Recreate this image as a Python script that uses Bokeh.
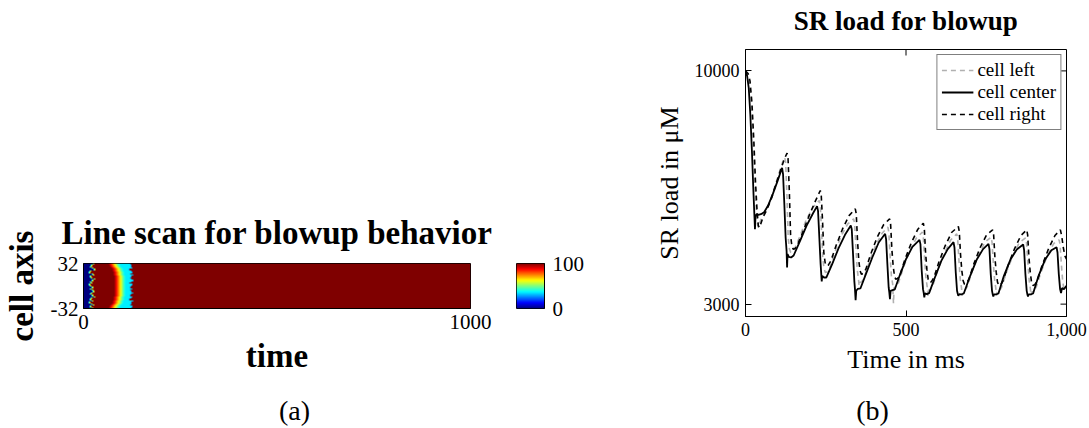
import numpy as np
from bokeh.plotting import figure
from bokeh.models import FixedTicker, Range1d, Legend, LegendItem, LinearColorMapper
from bokeh.core.properties import value
from bokeh.layouts import row, column
from bokeh.embed import file_html
from bokeh.resources import INLINE

FONT = "Liberation Serif"

# ---------------- (a) line scan data ----------------
cell_rows = list(range(32, -33, -2))          # cell axis, top -> bottom (33 rows)
time_edges = [0, 1000]
blue_end = [22, 18, 14, 20, 24, 16, 13, 19, 22, 15, 17, 24, 20, 14, 18, 12, 16,
            21, 15, 19, 23, 17, 14, 20, 25, 18, 15, 21, 13, 17, 22, 16, 20]
front_start = [62, 65, 68, 70, 72, 73, 74, 75, 76, 77, 77, 78, 78, 78, 78, 78, 78,
               78, 78, 78, 78, 78, 77, 77, 76, 75, 74, 73, 72, 70, 68, 65, 62]
back_edge = [122, 126, 124, 128, 121, 125, 127, 123, 130, 124, 122, 126, 129, 124,
             121, 127, 125, 123, 128, 122, 126, 131, 124, 122, 127, 125, 121, 129,
             124, 126, 122, 128, 125]
edge_vals = [38, 62]
grad_vals = [100, 95, 90, 84, 78, 72, 66, 60, 54, 48, 43, 39, 36]
band_val = 36
band_edge_val = 30
col_step = 2.5
cbar_ticks = [0, 100]
x_ticks_a = [0, 1000]
y_ticks_a = [-32, 32]

# ---------------- (b) SR load data ----------------
center_t = [0, 5, 10, 15, 20, 25, 28, 29.5, 31, 34, 40, 48, 58, 70, 85, 100, 110, 114,
            117, 121, 125, 128, 129.5, 131, 135, 142, 150, 170, 190, 210, 223,
            226, 230, 234, 236, 237.5, 239, 244, 252, 270, 290, 310, 328,
            331, 335, 339, 341, 343, 345, 350, 358, 375, 395, 415, 435,
            438, 442, 446, 448, 450, 452, 458, 465, 480, 500, 520, 542,
            545, 549, 553, 555, 557, 559, 565, 572, 590, 610, 630, 648,
            651, 655, 659, 661, 663, 665, 672, 680, 700, 720, 740, 757,
            760, 764, 768, 770, 772, 774, 780, 788, 805, 825, 845, 865,
            868, 872, 876, 878, 880, 882, 888, 896, 913, 933, 953, 969,
            972, 976, 980, 983, 986, 992, 1000]
center_v = [10000, 9850, 9500, 8700, 7600, 6300, 5600, 5250, 5600, 5700, 5680, 5700, 5760, 5950, 6300, 6700, 6980, 7090,
            6900, 6000, 5000, 4600, 4100, 4500, 4420, 4400, 4460, 4900, 5350, 5720, 5940,
            5800, 5000, 4200, 3900, 3680, 3850, 3800, 3800, 4200, 4680, 5080, 5360,
            5250, 4500, 3700, 3450, 3120, 3400, 3460, 3470, 3900, 4400, 4850, 5110,
            4950, 4200, 3500, 3350, 3150, 3400, 3420, 3440, 3850, 4350, 4720, 4930,
            4800, 4000, 3450, 3350, 3200, 3320, 3300, 3330, 3800, 4300, 4650, 4860,
            4700, 3950, 3400, 3320, 3250, 3300, 3290, 3320, 3850, 4330, 4650, 4810,
            4650, 3900, 3400, 3300, 3230, 3290, 3290, 3320, 3850, 4330, 4640, 4790,
            4620, 3900, 3400, 3300, 3230, 3290, 3290, 3320, 3850, 4330, 4620, 4710,
            4550, 3900, 3450, 3330, 3480, 3450, 3550]

right_t = [0, 8, 14, 20, 26, 31, 36, 40, 44, 48, 55, 65, 80, 95, 110, 122, 129.5,
           132.5, 136.5, 140.5, 144.5, 148.5, 155, 163, 178, 198, 218, 233,
           236, 240, 244, 248, 252, 258, 266, 282, 302, 322, 342,
           345, 349, 353, 357, 361, 367, 375, 390, 410, 430, 449,
           452, 456, 460, 464, 468, 474, 482, 497, 517, 537, 554,
           557, 561, 565, 569, 573, 579, 587, 602, 622, 642, 663,
           666, 670, 674, 678, 682, 688, 696, 711, 731, 751, 770,
           773, 777, 781, 785, 789, 795, 803, 818, 838, 858, 876,
           879, 883, 887, 891, 895, 901, 909, 924, 944, 964, 981,
           985, 990, 995, 1000]
right_v = [10000, 9920, 9700, 9050, 7900, 6700, 5800, 5350, 5300, 5420, 5620, 5800, 6150, 6600, 7050, 7380, 7530,
           7380, 6400, 5050, 4750, 4650, 4670, 4800, 5150, 5650, 6100, 6410,
           6260, 5500, 4550, 4250, 4150, 4170, 4300, 4750, 5250, 5650, 5860,
           5710, 4900, 4300, 4000, 3900, 3920, 4050, 4500, 5000, 5380, 5560,
           5410, 4640, 4150, 3850, 3750, 3770, 3900, 4350, 4850, 5250, 5430,
           5280, 4540, 4050, 3750, 3650, 3670, 3800, 4250, 4750, 5150, 5330,
           5180, 4470, 4000, 3700, 3600, 3620, 3750, 4200, 4700, 5080, 5230,
           5080, 4400, 3960, 3660, 3560, 3580, 3710, 4160, 4660, 5060, 5230,
           5080, 4400, 3960, 3660, 3560, 3580, 3710, 4160, 4660, 5060, 5230,
           5050, 4700, 4450, 4350]

left_t = [0, 6, 12, 18, 24, 29, 34, 38, 41, 45, 52, 62, 77, 92, 107, 117, 122,
          125, 129, 133, 137, 141, 147, 155, 170, 190, 210, 230,
          233, 237, 241, 245, 249, 255, 263, 278, 298, 318, 337,
          340, 344, 348, 352, 354, 356, 362, 370, 385, 405, 425, 443.5,
          446.5, 450.5, 454.5, 458.5, 461, 463, 469, 477, 492, 512, 532, 551,
          554, 558, 562, 566, 568, 570, 576, 584, 599, 619, 639, 658,
          661, 665, 669, 673, 675, 677, 683, 691, 706, 726, 746, 765,
          768, 772, 776, 780, 782, 784, 790, 798, 813, 833, 853, 872.5,
          875.5, 879.5, 883.5, 887.5, 889.5, 891.5, 897.5, 905.5, 920.5, 940.5, 960.5, 977,
          980, 984, 988, 992, 996, 1000]
left_v = [10000, 9900, 9600, 9000, 7900, 6700, 5750, 5350, 5300, 5450, 5650, 5780, 6100, 6550, 7000, 7300, 7410,
          7260, 6300, 5000, 4650, 4550, 4570, 4700, 5050, 5550, 5900, 6110,
          5960, 5200, 4350, 4050, 3950, 3970, 4100, 4550, 5050, 5400, 5560,
          5410, 4700, 4050, 3750, 3550, 3650, 3670, 3800, 4250, 4750, 5120, 5310,
          5160, 4450, 3850, 3600, 3020, 3500, 3520, 3650, 4100, 4600, 4980, 5160,
          5010, 4350, 3800, 3520, 3250, 3420, 3440, 3570, 4020, 4520, 4920, 5110,
          4960, 4300, 3750, 3480, 3250, 3380, 3400, 3530, 3980, 4480, 4860, 5010,
          4860, 4250, 3730, 3460, 3260, 3360, 3380, 3510, 3960, 4460, 4850, 4990,
          4840, 4250, 3730, 3460, 3260, 3360, 3380, 3510, 3960, 4460, 4820, 4930,
          4780, 4200, 3700, 3450, 3420, 3450]

x_ticks_b = [0, 500, 1000]
y_ticks_b = [3000, 10000]
x_range_b = [0, 1000]
y_range_b = [2629, 10642]

title_b = "SR load for blowup"
captions = ["(a)", "(b)"]

# ---------------- jet palette ----------------
def jet(n=256):
    out = []
    for k in range(n):
        x = k / (n - 1)
        r = min(max(1.5 - abs(4 * x - 3), 0), 1)
        g = min(max(1.5 - abs(4 * x - 2), 0), 1)
        b = min(max(1.5 - abs(4 * x - 1), 0), 1)
        out.append("#%02x%02x%02x" % (int(r * 255), int(g * 255), int(b * 255)))
    return out

JET = jet()
mapper = LinearColorMapper(palette=JET, low=cbar_ticks[0], high=cbar_ticks[-1])

# ---------------- build image for (a) ----------------
ncols = int((time_edges[1] - time_edges[0]) / col_step)
tc = time_edges[0] + (np.arange(ncols) + 0.5) * col_step
rows_vals = []
for i in range(len(cell_rows)):
    v = np.full(ncols, 100.0)
    v[tc < blue_end[i]] = 0.0
    j = int(np.searchsorted(tc, blue_end[i]))
    for k, e in enumerate(edge_vals):
        v[j + k] = e
    j0 = int(np.searchsorted(tc, front_start[i]))
    j1 = int(np.searchsorted(tc, back_edge[i]))
    v[j0:j1] = band_val
    for k, g in enumerate(grad_vals):
        if j0 + k < j1:
            v[j0 + k] = g
    v[j1 - 1] = band_edge_val
    rows_vals.append(v)
img = np.array(rows_vals[::-1])   # bottom row first

# layout constants (pixels)
W_ALL = 1089
H_HEAD = 40          # height of the strip holding the title of (b)
H_MID = 352          # height of the plot row
H_CAP = 36           # height of the caption strip
TOP_A, FRAME_H_A = 263 - H_HEAD, 45
TOP_B, BOTTOM_B = 49 - H_HEAD, 316 - H_HEAD


def style_axis(ax, label_size, tick_size, bold, tick_in):
    ax.axis_label_text_font = FONT
    ax.axis_label_text_font_size = label_size
    ax.axis_label_text_font_style = "bold" if bold else "normal"
    ax.axis_label_text_color = "black"
    ax.major_label_text_font = FONT
    ax.major_label_text_font_size = tick_size
    ax.major_label_text_color = "black"
    ax.major_tick_in = tick_in
    ax.major_tick_out = 0
    ax.major_tick_line_color = "black"
    ax.minor_tick_line_color = None
    ax.axis_line_color = "black"


# ---------------- header strip: title of (b) ----------------
phead = figure(width=W_ALL, height=H_HEAD, x_range=Range1d(0, W_ALL), y_range=Range1d(0, H_HEAD),
               output_backend="svg", toolbar_location=None,
               min_border_left=0, min_border_right=0, min_border_top=0, min_border_bottom=0)
phead.frame_align = False
phead.axis.visible = False
phead.grid.visible = False
phead.outline_line_color = None
phead.text(x=[905.5], y=[H_HEAD / 2], text=[title_b], text_font=value(FONT),
           text_font_size="27px", text_font_style="bold", text_align="center",
           text_baseline="middle", text_color="black")

# ---------------- (a) ----------------
p1 = figure(width=495, height=H_MID, x_range=Range1d(*time_edges),
            y_range=Range1d(cell_rows[-1], cell_rows[0]),
            output_backend="svg", toolbar_location=None,
            min_border_left=80, min_border_right=25, min_border_top=TOP_A,
            min_border_bottom=H_MID - TOP_A - FRAME_H_A,
            title="Line scan for blowup behavior")
p1.frame_align = False
p1.image(image=[img], x=time_edges[0], y=cell_rows[-1], dw=time_edges[1] - time_edges[0],
         dh=cell_rows[0] - cell_rows[-1], color_mapper=mapper)
p1.title.text_font = FONT
p1.title.text_font_size = "33px"
p1.title.text_font_style = "bold"
p1.title.text_color = "black"
p1.title.align = "center"
p1.title.standoff = 26
p1.grid.visible = False
p1.outline_line_color = "black"
p1.outline_line_alpha = 1
p1.xaxis.ticker = FixedTicker(ticks=x_ticks_a)
p1.yaxis.ticker = FixedTicker(ticks=y_ticks_a)
p1.yaxis.major_label_overrides = {-32: "-32"}
p1.xaxis.axis_label = "time"
p1.yaxis.axis_label = "cell axis"
for ax in (p1.xaxis[0], p1.yaxis[0]):
    style_axis(ax, "33px", "21px", True, 0)
p1.xaxis.major_label_standoff = 6
p1.yaxis.major_label_standoff = 5
p1.xaxis.axis_label_standoff = 6
p1.yaxis.axis_label_standoff = 8

# ---------------- colour bar of (a) ----------------
cbar_levels = np.linspace(cbar_ticks[0], cbar_ticks[-1], 256).reshape(256, 1)
pcb = figure(width=105, height=H_MID, x_range=Range1d(0, 1), y_range=Range1d(*cbar_ticks),
             output_backend="svg", toolbar_location=None, y_axis_location="right",
             min_border_left=21, min_border_right=56, min_border_top=TOP_A,
             min_border_bottom=H_MID - TOP_A - FRAME_H_A)
pcb.frame_align = False
pcb.image(image=[cbar_levels], x=0, y=cbar_ticks[0], dw=1, dh=cbar_ticks[-1] - cbar_ticks[0],
          color_mapper=mapper)
pcb.xaxis.visible = False
pcb.grid.visible = False
pcb.outline_line_color = "black"
pcb.outline_line_alpha = 1
pcb.yaxis.ticker = FixedTicker(ticks=cbar_ticks)
style_axis(pcb.yaxis[0], "21px", "21px", False, 0)
pcb.yaxis.major_label_standoff = 8

# ---------------- (b) ----------------
p2 = figure(width=489, height=H_MID, x_range=Range1d(*x_range_b), y_range=Range1d(*y_range_b),
            output_backend="svg", toolbar_location=None,
            min_border_left=145, min_border_right=23, min_border_top=TOP_B,
            min_border_bottom=H_MID - BOTTOM_B)
p2.frame_align = False
p2.grid.visible = False
p2.outline_line_color = "black"
p2.outline_line_alpha = 1

r_left = p2.line(left_t, left_v, line_color="#b0b0b0", line_width=1.6, line_dash="5 4")
r_center = p2.line(center_t, center_v, line_color="black", line_width=1.8)
r_right = p2.line(right_t, right_v, line_color="black", line_width=1.6, line_dash="5 4")

# inner tick marks on the top and right frame edges
p2.ray(x=x_ticks_b, y=[y_range_b[1]] * len(x_ticks_b), length=6, length_units="screen",
       angle=-np.pi / 2, line_color="black", line_width=1)
p2.ray(x=[x_range_b[1]] * len(y_ticks_b), y=y_ticks_b, length=6, length_units="screen",
       angle=np.pi, line_color="black", line_width=1)

p2.xaxis.ticker = FixedTicker(ticks=x_ticks_b)
p2.xaxis.major_label_overrides = {1000: "1,000"}
p2.yaxis.ticker = FixedTicker(ticks=y_ticks_b)
p2.xaxis.axis_label = "Time in ms"
p2.yaxis.axis_label = "SR load in μM"
for ax in (p2.xaxis[0], p2.yaxis[0]):
    style_axis(ax, "26px", "18px", False, 6)
p2.xaxis.major_label_standoff = 6
p2.yaxis.major_label_standoff = 6
p2.xaxis.axis_label_standoff = 6
p2.yaxis.axis_label_standoff = 8

legend = Legend(items=[LegendItem(label="cell left", renderers=[r_left]),
                       LegendItem(label="cell center", renderers=[r_center]),
                       LegendItem(label="cell right", renderers=[r_right])],
                location="top_right", border_line_color="black", border_line_width=1,
                label_text_font=FONT, label_text_font_size="19px", label_text_color="black",
                glyph_width=32, glyph_height=20, label_height=20, spacing=0,
                padding=4, margin=5, label_standoff=4, background_fill_alpha=1)
p2.add_layout(legend)

# ---------------- caption strip: (a) and (b) ----------------
caption_x = [294, 872]       # pixel centres of the sub-figure captions
pcap = figure(width=W_ALL, height=H_CAP, x_range=Range1d(0, W_ALL), y_range=Range1d(0, H_CAP),
              output_backend="svg", toolbar_location=None,
              min_border_left=0, min_border_right=0, min_border_top=0, min_border_bottom=0)
pcap.frame_align = False
pcap.axis.visible = False
pcap.grid.visible = False
pcap.outline_line_color = None
pcap.text(x=caption_x, y=[H_CAP / 2] * len(captions), text=captions,
          text_font=value(FONT), text_font_size="28px", text_align="center",
          text_baseline="middle", text_color="black")

layout = column(phead, row(p1, pcb, p2), pcap)
open("out.html", "w").write(file_html(layout, INLINE))
